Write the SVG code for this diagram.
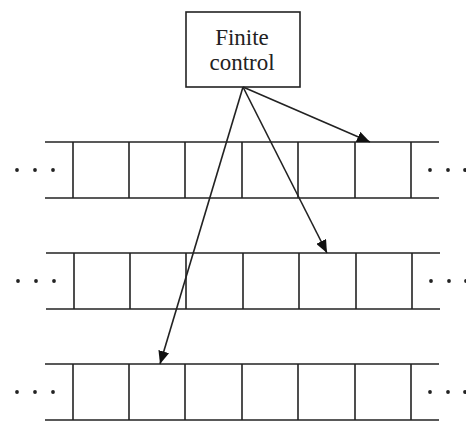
<svg xmlns="http://www.w3.org/2000/svg" width="466" height="422" viewBox="0 0 466 422">
<defs>
<style>
.ln{stroke:#222;stroke-width:1.6;fill:none}
.cl{stroke:#222;stroke-width:1.6;fill:none}
.dot{fill:#222}
.t{font-family:"Liberation Serif",serif;font-size:23px;fill:#222;text-anchor:middle}
</style>
<marker id="ah" viewBox="0 0 13 11" refX="13" refY="5.5" markerWidth="13" markerHeight="11" markerUnits="userSpaceOnUse" orient="auto">
<path d="M0,0 L13,5.5 L0,11 z" fill="#111"/>
</marker>
<g id="tape">
<line class="ln" x1="45" y1="0" x2="439" y2="0"/>
<line class="ln" x1="45" y1="56" x2="439" y2="56"/>
<line class="cl" x1="73" y1="0" x2="73" y2="56"/>
<line class="cl" x1="129" y1="0" x2="129" y2="56"/>
<line class="cl" x1="185" y1="0" x2="185" y2="56"/>
<line class="cl" x1="242" y1="0" x2="242" y2="56"/>
<line class="cl" x1="298" y1="0" x2="298" y2="56"/>
<line class="cl" x1="355" y1="0" x2="355" y2="56"/>
<line class="cl" x1="411" y1="0" x2="411" y2="56"/>
<circle class="dot" cx="17" cy="28" r="1.9"/>
<circle class="dot" cx="35" cy="28" r="1.9"/>
<circle class="dot" cx="53" cy="28" r="1.9"/>
<circle class="dot" cx="430" cy="28" r="1.9"/>
<circle class="dot" cx="448" cy="28" r="1.9"/>
<circle class="dot" cx="465" cy="28" r="1.9"/>
</g>
</defs>
<rect width="466" height="422" fill="#fff"/>
<g id="tape1"><use href="#tape" x="0" y="142"/></g>
<g id="tape2"><use href="#tape" x="1" y="253"/></g>
<g id="tape3"><use href="#tape" x="0" y="364"/></g>
<g id="finite-control">
<rect x="186" y="12" width="114" height="75" fill="#fff" stroke="#222" stroke-width="1.6"/>
<text class="t" x="242" y="45">Finite</text>
<text class="t" x="242" y="70">control</text>
</g>
<g id="connectors">
<line class="ln" x1="243" y1="87" x2="370" y2="142" marker-end="url(#ah)"/>
<line class="ln" x1="243" y1="87" x2="327" y2="253" marker-end="url(#ah)"/>
<line class="ln" x1="243" y1="87" x2="160" y2="364" marker-end="url(#ah)"/>
</g>
</svg>
